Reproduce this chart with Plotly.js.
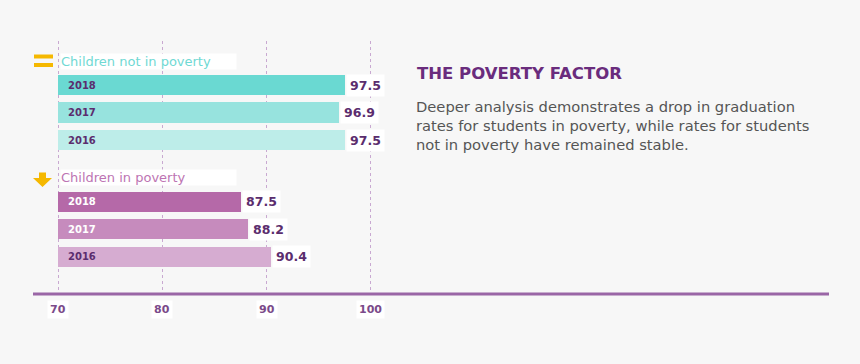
<!DOCTYPE html>
<html>
<head>
<meta charset="utf-8">
<script src="https://cdn.plot.ly/plotly-3.0.1.min.js"></script>
<style>
html,body{margin:0;padding:0;background:#f7f7f7;}
#chart{width:860px;height:364px;}
</style>
</head>
<body>
<div id="chart"></div>
<script>
// ---- data ----
var years = ["2018", "2017", "2016"];
var notPovertyValues = [97.5, 96.9, 97.5];
var povertyValues = [87.5, 88.2, 90.4];
var groupLabels = ["Children not in poverty", "Children in poverty"];
var tickValues = [70, 80, 90, 100];
var tickLabels = ["70", "80", "90", "100"];
var titleText = "THE POVERTY FACTOR";
var bodyText = "Deeper analysis demonstrates a drop in graduation<br>rates for students in poverty, while rates for students<br>not in poverty have remained stable.";

// ---- styling / layout ----
var FONT = "DejaVu Sans, sans-serif";
var BASE = 70;
var teal = ["#6ad9d2", "#97e3de", "#bdede9"];
var purple = ["#b569a8", "#c68bbd", "#d6acd1"];
var dark = "#5b2d6e";
var groupOffset = [0, 4.25];
var W = 860, H = 364, L = 33, R = 31, T = 41, B = 70;
var pw = W - L - R, ph = H - T - B;
function fx(p){ return (p - L) / pw; }
function fy(p){ return (H - B - p) / ph; }

function yPos(g){ return years.map(function(_, i){ return groupOffset[g] + i; }); }

var groups = [notPovertyValues, povertyValues];
var colors = [teal, purple];
var yearFontColors = [[dark, dark, dark], ["#ffffff", "#ffffff", dark]];

var traces = groups.map(function(vals, g){
  return {
    type: "bar",
    orientation: "h",
    y: yPos(g),
    x: vals.map(function(v){ return v - BASE; }),
    base: BASE,
    width: 0.73,
    marker: {color: colors[g], line: {width: 0}},
    hoverinfo: "skip",
    showlegend: false
  };
});

var annotations = [];
groups.forEach(function(vals, g){
  var ys = yPos(g);
  vals.forEach(function(v, i){
    annotations.push({
      x: v, y: ys[i], xref: "x", yref: "y",
      text: "<b>" + v.toFixed(1) + "</b>",
      showarrow: false, xanchor: "left", yanchor: "middle", xshift: 1,
      bgcolor: "#ffffff", borderpad: 3,
      font: {family: FONT, size: 12.5, color: dark}
    });
    annotations.push({
      x: BASE, y: ys[i], xref: "x", yref: "y",
      text: "<b>" + years[i] + "</b>",
      showarrow: false, xanchor: "left", yanchor: "middle", xshift: 8,
      font: {family: FONT, size: 10, color: yearFontColors[g][i]}
    });
  });
});
// group labels
var groupColors = ["#6fd9d3", "#bd74b3"];
var groupY = [61, 177];
groupLabels.forEach(function(lbl, g){
  annotations.push({
    x: BASE, y: fy(groupY[g]), xref: "x", yref: "paper",
    text: lbl, showarrow: false, xanchor: "left", yanchor: "middle",
    xshift: 2, width: 175, align: "left", height: 15,
    bgcolor: "#ffffff", borderpad: 0,
    font: {family: FONT, size: 13, color: groupColors[g]}
  });
});
// tick labels with white boxes
tickValues.forEach(function(v, i){
  annotations.push({
    x: v, y: 0, xref: "x", yref: "paper",
    text: "<b>" + tickLabels[i] + "</b>", showarrow: false,
    xanchor: "center", yanchor: "top", yshift: -6,
    bgcolor: "#ffffff", borderpad: 2,
    font: {family: FONT, size: 11, color: "#7b4a8a"}
  });
});
// title + body
annotations.push({
  x: fx(415), y: fy(73), xref: "paper", yref: "paper",
  text: "<b>" + titleText + "</b>", showarrow: false,
  xanchor: "left", yanchor: "middle",
  font: {family: FONT, size: 16.5, color: "#6a2c7d"}
});
annotations.push({
  x: fx(414), y: fy(96), xref: "paper", yref: "paper",
  text: bodyText, showarrow: false, align: "left",
  xanchor: "left", yanchor: "top",
  font: {family: FONT, size: 14.7, color: "#555555"}
});

var yellow = "#f5b800";
var shapes = [
  // axis line
  {type: "line", xref: "paper", yref: "paper", x0: 0, x1: 1, y0: 0, y1: 0,
   line: {color: "#9a66a6", width: 3}},
  // "=" icon
  {type: "rect", xref: "paper", yref: "paper", x0: fx(34), x1: fx(53), y0: fy(54.5), y1: fy(58.5),
   fillcolor: yellow, line: {width: 0}},
  {type: "rect", xref: "paper", yref: "paper", x0: fx(34), x1: fx(53), y0: fy(63), y1: fy(67),
   fillcolor: yellow, line: {width: 0}},
  // down arrow icon
  {type: "path", xref: "paper", yref: "paper",
   path: "M " + fx(39) + " " + fy(172.5) + " L " + fx(46) + " " + fy(172.5) + " L " + fx(46) + " " + fy(178) +
         " L " + fx(52) + " " + fy(178) + " L " + fx(42.5) + " " + fy(187) + " L " + fx(33) + " " + fy(178) +
         " L " + fx(39) + " " + fy(178) + " Z",
   fillcolor: yellow, line: {width: 0}}
];

var layout = {
  width: W, height: H,
  margin: {l: L, r: R, t: T, b: B, pad: 0},
  paper_bgcolor: "#f7f7f7", plot_bgcolor: "#f7f7f7",
  bargap: 0,
  xaxis: {
    range: [BASE - (58 - L) / 10.43, BASE + (W - R - 58) / 10.43],
    tickvals: tickValues, showticklabels: false, ticks: "",
    showgrid: true, gridcolor: "#c9a9d1", griddash: "dot", gridwidth: 1,
    zeroline: false, showline: false, fixedrange: true
  },
  yaxis: {
    range: [(H - B - 85) / 27.5, (T - 85) / 27.5],
    showgrid: false, zeroline: false, showticklabels: false, showline: false, fixedrange: true
  },
  shapes: shapes,
  annotations: annotations,
  font: {family: FONT},
  showlegend: false
};

Plotly.newPlot("chart", traces, layout, {displayModeBar: false, staticPlot: true});
</script>
</body>
</html>
